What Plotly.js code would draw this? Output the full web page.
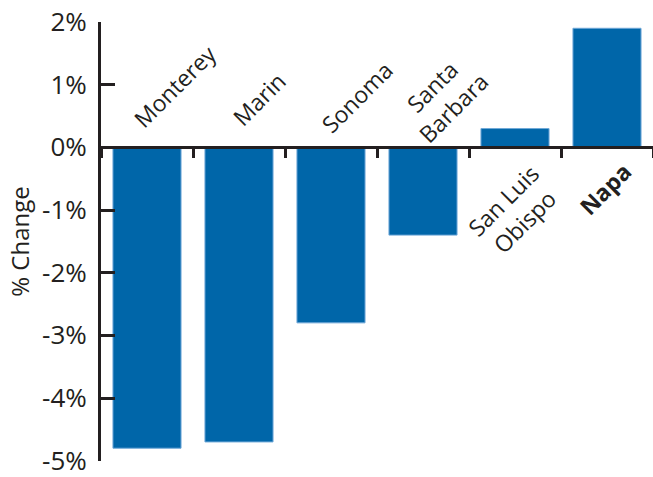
<!DOCTYPE html>
<html>
<head>
<meta charset="utf-8">
<script src="https://cdn.plot.ly/plotly-3.0.1.min.js"></script>
<style>html,body{margin:0;padding:0;background:#fff;}#chart{width:653px;height:477px;}</style>
</head>
<body>
<div id="chart"></div>
<script>
// Data
var categories = ["Monterey", "Marin", "Sonoma", "Santa Barbara", "San Luis Obispo", "Napa"];
var categoryLabels = ["Monterey", "Marin", "Sonoma", "Santa<br>Barbara", "San Luis<br>Obispo", "<b>Napa</b>"];
var pctChange = [-4.8, -4.7, -2.8, -1.4, 0.3, 1.9];
var yTickVals = [-5, -4, -3, -2, -1, 0, 1, 2];
var yTickText = ["-5%", "-4%", "-3%", "-2%", "-1%", "0%", "1%", "2%"];

// Label placement (pixel offsets from category centre at zero line)
var labelDx = [28, 20, 26, 20, -1, -2];
var labelDy = [61, 48, 50, 50, -64, -42];

var ink = "#231f20";
var fontFam = "Open Sans, sans-serif";

var annotations = categories.map(function (c, i) {
  return {
    x: c, y: 0, xref: "x", yref: "y",
    text: categoryLabels[i],
    showarrow: false,
    textangle: -45,
    xanchor: "center", yanchor: "middle",
    align: "center",
    xshift: labelDx[i], yshift: labelDy[i],
    font: {family: fontFam, size: 23, color: ink}
  };
});

var trace = {
  type: "bar",
  x: categories,
  y: pctChange,
  marker: {color: "#0066a9", line: {color: "#6fa8d8", width: 1}},
  hoverinfo: "skip"
};

var layout = {
  width: 653, height: 477,
  margin: {l: 101, r: 0, t: 22, b: 16, pad: 0},
  paper_bgcolor: "#fff", plot_bgcolor: "#fff",
  showlegend: false,
  bargap: 0.26,
  font: {family: fontFam, color: ink},
  xaxis: {
    type: "category",
    anchor: "free", position: 5 / 7,
    showline: true, linecolor: ink, linewidth: 3,
    ticks: "outside", tickson: "boundaries", ticklen: 9, tickwidth: 3, tickcolor: ink,
    showticklabels: false, showgrid: false, zeroline: false,
    fixedrange: true
  },
  yaxis: {
    range: [-5.004, 2],
    tickvals: yTickVals, ticktext: yTickText,
    showline: true, linecolor: ink, linewidth: 3,
    ticks: "inside", ticklen: 14, tickwidth: 3, tickcolor: ink,
    ticklabelstandoff: 6,
    ticklabeloverflow: "allow",
    tickfont: {family: fontFam, size: 26, color: ink},
    showgrid: false, zeroline: false,
    title: {text: "% Change", font: {family: fontFam, size: 24, color: ink}, standoff: 6},
    fixedrange: true
  },
  annotations: annotations
};

Plotly.newPlot("chart", [trace], layout, {displayModeBar: false, staticPlot: true});
</script>
</body>
</html>
